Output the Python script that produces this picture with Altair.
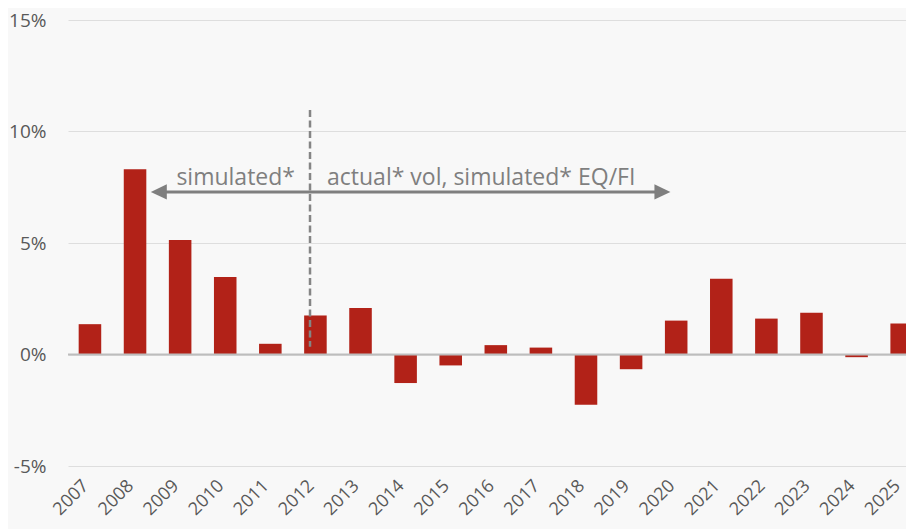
import altair as alt
import pandas as pd

years = [str(y) for y in range(2007, 2026)]
values = [1.36, 8.31, 5.13, 3.48, 0.48, 1.75, 2.08, -1.28, -0.49, 0.42,
          0.31, -2.25, -0.66, 1.52, 3.40, 1.61, 1.87, -0.12, 1.39]
values = [v / 100 for v in values]

# annotation values
divider_year = ["2012"]
divider_top = [0.1096]
divider_bottom = [0.0035]
arrow_start = ["2008"]
arrow_end = ["2020"]
arrow_level = [0.0729]
label_level = [0.076]
labels_left = ["simulated*"]
labels_right = ["actual* vol, simulated* EQ/FI"]

FONT = "Open Sans"
GREY = "#7f7f7f"

bars_df = pd.DataFrame({"year": years, "value": values})

xscale = alt.Scale(domain=years, paddingInner=0.5, paddingOuter=0.13, align=0.91,
                   range=[0, 846])
yscale = alt.Scale(domain=[-0.05, 0.15])

base_x = alt.X("year:N", scale=xscale, sort=years,
               axis=alt.Axis(title=None, labelAngle=-45, labelFontSize=18,
                             labelColor="#595959", labelFont=FONT, ticks=False,
                             labelAlign="right", labelBaseline="middle",
                             labelOffset=-4, labelBound=False, labelOverlap=False,
                             domain=False, labelPadding=17, grid=False))

bars = alt.Chart(bars_df).mark_bar(color="#b22218").encode(
    x=base_x,
    y=alt.Y("value:Q", scale=yscale,
            axis=alt.Axis(title=None, format=".0%", values=[-0.05, 0, 0.05, 0.10, 0.15],
                          labelExpr="replace(datum.label, '\u2212', '-')",
                          labelFontSize=19, labelColor="#595959", labelFont=FONT,
                          ticks=False, domain=False, labelPadding=22,
                          gridColor="#dedede", gridWidth=1)),
)

zero = alt.Chart(pd.DataFrame({"v": [0.0]})).mark_rule(color="#bdbdbd", strokeWidth=2).encode(
    y=alt.Y("v:Q", scale=yscale)
)

div_df = pd.DataFrame({"year": divider_year, "top": divider_top, "bottom": divider_bottom})
divider = alt.Chart(div_df).mark_rule(color="#858585", strokeWidth=2.5, strokeDash=[7, 3.5]).encode(
    x=alt.X("year:N", scale=xscale, bandPosition=0.26),
    y=alt.Y("top:Q", scale=yscale),
    y2="bottom:Q",
)

arrow_df = pd.DataFrame({"start": arrow_start, "end": arrow_end, "lvl": arrow_level})
arrow_line = alt.Chart(arrow_df).mark_rule(
    color=GREY, strokeWidth=3, xOffset=17, x2Offset=-8
).encode(
    x=alt.X("start:N", scale=xscale, bandPosition=1),
    x2=alt.X2("end:N", bandPosition=0),
    y=alt.Y("lvl:Q", scale=yscale),
)

head_l = alt.Chart(pd.DataFrame({"year": arrow_start, "lvl": arrow_level})).mark_point(
    shape="M -1 0 L 1 -0.95 L 1 0.95 Z", filled=True, color=GREY, opacity=1, size=256,
    xOffset=12.5
).encode(
    x=alt.X("year:N", scale=xscale, bandPosition=1),
    y=alt.Y("lvl:Q", scale=yscale),
)
head_r = alt.Chart(pd.DataFrame({"year": arrow_end, "lvl": arrow_level})).mark_point(
    shape="M 1 0 L -1 -0.95 L -1 0.95 Z", filled=True, color=GREY, opacity=1, size=256,
    xOffset=-2.5
).encode(
    x=alt.X("year:N", scale=xscale, bandPosition=0),
    y=alt.Y("lvl:Q", scale=yscale),
)

txt_l = alt.Chart(pd.DataFrame({"year": divider_year, "lvl": label_level, "t": labels_left})).mark_text(
    align="right", baseline="alphabetic", dx=-15, fontSize=23, font=FONT, color=GREY
).encode(
    x=alt.X("year:N", scale=xscale, bandPosition=0.26),
    y=alt.Y("lvl:Q", scale=yscale),
    text="t:N",
)
txt_r = alt.Chart(pd.DataFrame({"year": divider_year, "lvl": label_level, "t": labels_right})).mark_text(
    align="left", baseline="alphabetic", dx=17, fontSize=23, font=FONT, color=GREY
).encode(
    x=alt.X("year:N", scale=xscale, bandPosition=0.26),
    y=alt.Y("lvl:Q", scale=yscale),
    text="t:N",
)

chart = alt.layer(bars, zero, divider, arrow_line, head_l, head_r, txt_l, txt_r).properties(
    width=838, height=446,
    autosize=alt.AutoSizeParams(type="none"),
    padding={"left": 60, "top": 12, "right": 0, "bottom": 63},
    background="#f8f8f8",
).configure_view(stroke=None)

chart.save("out.html", embed_options={"renderer": "svg", "actions": False})
